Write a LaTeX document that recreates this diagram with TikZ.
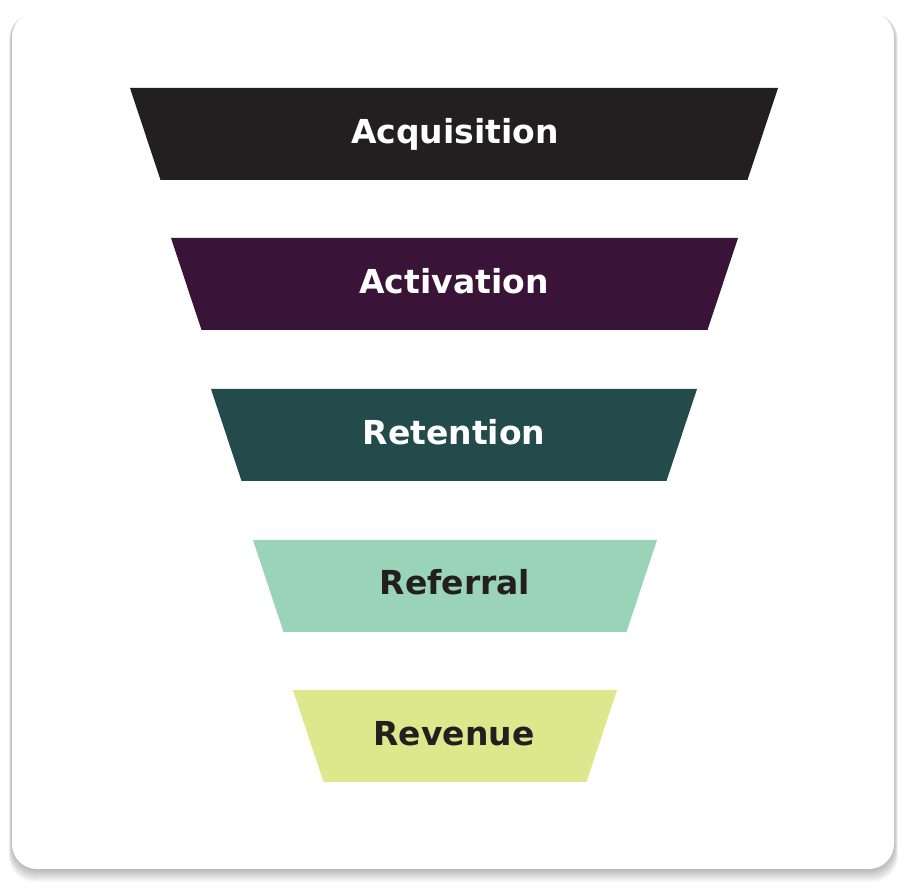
\documentclass[tikz,border=0pt]{standalone}
\usepackage{fontspec}
\setmainfont{DejaVu Sans}
\usetikzlibrary{calc}
\definecolor{cAcq}{HTML}{231F20}
\definecolor{cAct}{HTML}{3A1438}
\definecolor{cRet}{HTML}{234B4B}
\definecolor{cRef}{HTML}{99D3B8}
\definecolor{cRev}{HTML}{DDE88C}
\tikzset{
  lbl/.style={font=\fontsize{33}{37}\selectfont\bfseries, anchor=base, inner sep=0pt},
}
\newcommand{\funnelband}[6]{% name, topY(px), topL, topR, color, unused
  \fill[#5] (#3pt,{(894-#2)*1pt}) -- (#4pt,{(894-#2)*1pt}) -- ({(#4-30.5)*1pt},{(894-#2-92)*1pt}) -- ({(#3+30.5)*1pt},{(894-#2-92)*1pt}) -- cycle;
}
\begin{document}
\begin{tikzpicture}[x=1pt,y=1pt]
\useasboundingbox (0,0) rectangle (906,894);
\fill[white] (0,0) rectangle (906,894);
% card shadow
\foreach \i/\o in {1/0.035,2/0.035,3/0.035,4/0.035,5/0.035,6/0.035,7/0.035,8/0.035}{
  \fill[black,opacity=\o,rounded corners=26] ({12-\i*0.4},{894-869-\i*1.6}) rectangle ({894+\i*0.5},{894-12-\i*0.2});
}
\fill[white,rounded corners=25] (12,{894-869}) rectangle (894,{894-12});
% bands
\funnelband{acq}{88}{130}{778}{cAcq}{}
\funnelband{act}{238}{171}{738}{cAct}{}
\funnelband{ret}{389}{211}{697}{cRet}{}
\funnelband{ref}{540}{253}{657}{cRef}{}
\funnelband{rev}{690}{293}{617}{cRev}{}
\node[lbl,text=white] (acq) at (455,{894-144}) {Acquisition};
\node[lbl,text=white] (act) at (454,{894-294}) {Activation};
\node[lbl,text=white] (ret) at (454,{894-445}) {Retention};
\node[lbl,text=cAcq] (ref) at (455,{894-595}) {Referral};
\node[lbl,text=cAcq] (rev) at (454,{894-746}) {Revenue};
\end{tikzpicture}
\end{document}
